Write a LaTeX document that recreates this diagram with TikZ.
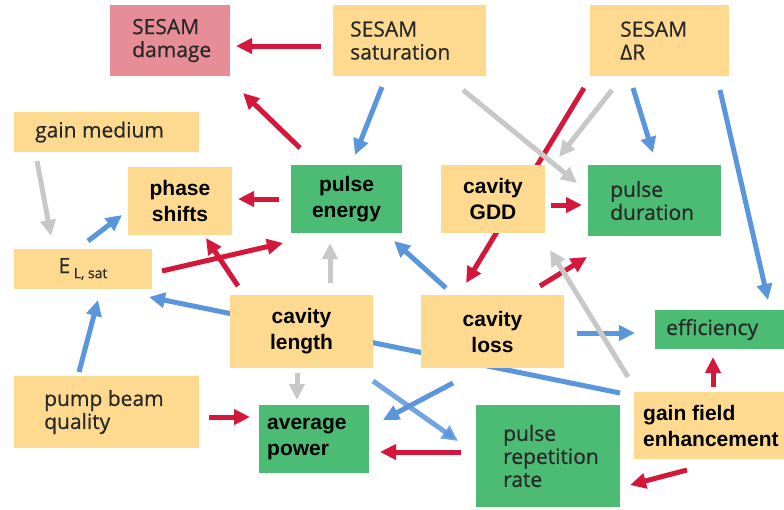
\documentclass[tikz,border=0pt]{standalone}
\usepackage{fontspec}
\setmainfont{Open Sans}[FakeBold=0.6]
\newfontfamily\bfam{Liberation Sans}
\usetikzlibrary{arrows.meta,calc}
\definecolor{yel}{RGB}{254,218,145}
\definecolor{grn}{RGB}{76,187,115}
\definecolor{pnk}{RGB}{230,141,152}
\definecolor{ared}{RGB}{212,24,60}
\definecolor{ablue}{RGB}{90,150,220}
\definecolor{agray}{RGB}{200,200,200}
\definecolor{txt}{RGB}{40,40,40}
\pgfdeclarelayer{bg}
\pgfsetlayers{bg,main}
\tikzset{
  box/.style={anchor=north west, inner sep=0pt, outer sep=0pt, draw=none},
  reg/.style={inner sep=0pt, anchor=west, font=\fontsize{21}{23}\selectfont, text=txt, align=left},
  bld/.style={inner sep=0pt, font=\bfam\bfseries\fontsize{21}{26}\selectfont, text=black, align=center},
  bldl/.style={bld, anchor=west, align=left},
  arr/.style={line width=5pt, -{Triangle[length=16pt,width=15pt]}},
  ra/.style={arr, draw=ared},
  ba/.style={arr, draw=ablue},
  ga/.style={arr, draw=agray},
}
\begin{document}
\begin{tikzpicture}[x=1pt,y=-1pt]
\useasboundingbox (0,0) rectangle (784,509);
% boxes
\node[box, fill=pnk, minimum width=120pt, minimum height=71pt] (dmg) at (110,5) {};
\node[box, fill=yel, minimum width=153pt, minimum height=71pt] (sat) at (333,5) {};
\node[box, fill=yel, minimum width=139pt, minimum height=71pt] (dR) at (590,5) {};
\node[box, fill=yel, minimum width=185pt, minimum height=40pt] (gm) at (14,112) {};
\node[box, fill=yel, minimum width=104pt, minimum height=68pt] (ph) at (128,167) {};
\node[box, fill=grn, minimum width=111pt, minimum height=68pt] (pe) at (291,165) {};
\node[box, fill=yel, minimum width=138pt, minimum height=40pt] (el) at (14,249) {};
\node[box, fill=yel, minimum width=104pt, minimum height=68pt] (gdd) at (441,165) {};
\node[box, fill=grn, minimum width=133pt, minimum height=71pt] (pd) at (588,165) {};
\node[box, fill=yel, minimum width=143pt, minimum height=73pt] (cl) at (230,295) {};
\node[box, fill=yel, minimum width=143pt, minimum height=73pt] (cs) at (421,295) {};
\node[box, fill=grn, minimum width=129pt, minimum height=39pt] (eff) at (655,310) {};
\node[box, fill=yel, minimum width=185pt, minimum height=72pt] (pbq) at (14,376) {};
\node[box, fill=grn, minimum width=110pt, minimum height=68pt] (ap) at (259,405) {};
\node[box, fill=grn, minimum width=144pt, minimum height=102pt] (prr) at (476,405) {};
\node[box, fill=yel, minimum width=150pt, minimum height=67pt] (gfe) at (634,392) {};
% texts
\node[reg] (dmgT) at ($(dmg.west)+(22,0)$) {SESAM\\damage};
\node[reg] (satT) at ($(sat.west)+(17,0)$) {SESAM\\saturation};
\node[reg] (dRT) at ($(dR.west)+(30,0)$) {SESAM\\ΔR};
\node[reg] (gmT) at ($(gm.west)+(21,0)$) {gain medium};
\node[reg] (pdT) at ($(pd.west)+(22,0)$) {pulse\\duration};
\node[reg] (prrT) at ($(prr.west)+(27,0)$) {pulse\\repetition\\rate};
\node[reg] (pbqT) at ($(pbq.west)+(30,0)$) {pump beam\\quality};
\node[reg] (effT) at ($(eff.west)+(11,0)$) {efficiency};
\node[reg, anchor=center] (elT) at (el.center) {E\,\raisebox{-5pt}{\fontsize{14}{14}\selectfont L, sat}};
\node[bld] (phT) at (ph.center) {phase\\shifts};
\node[bld] (peT) at (pe.center) {pulse\\energy};
\node[bld] (gddT) at (gdd.center) {cavity\\GDD};
\node[bld] (clT) at (cl.center) {cavity\\length};
\node[bld] (csT) at (cs.center) {cavity\\loss};
\node[bldl] (apT) at ($(ap.west)+(8,0)$) {average\\power};
\node[bldl] (gfeT) at ($(gfe.west)+(9,0)$) {gain field\\enhancement};
% connectors
\begin{pgfonlayer}{bg}
\fill[white] (0,0) rectangle (784,509);
% blue
\draw[ba] ($(sat.south)+(-27.5,11)$) -- ($(pe.north)+(8.5,-10)$);
\draw[ba] ($(dR.south)+(-26.5,12)$) -- ($(pd.north)+(-1.5,-12)$);
\draw[ba] ($(dR.south east)+(-9,14)$) -- ($(eff.north)+(48.5,-10)$);
\draw[ba] ($(el.north)+(5,-8)$) -- ($(ph.west)+(-6,14)$);
\draw[ba] ($(pbq.north)+(-27.5,-4)$) -- ($(el.south)+(15,11)$);
\draw[ba] ($(gfe.north west)+(-14,1)$) -- ($(el.south east)+(-3,8)$);
\draw[ba] ($(cs.north west)+(25,-7)$) -- ($(pe.south east)+(-8,8)$);
\draw[ba] ($(cs.east)+(13,1.5)$) -- ($(eff.west)+(-20,3.5)$);
\draw[ba, draw opacity=0.85] ($(cl.south east)+(0,13)$) -- ($(prr.west)+(-18,-15)$);
\draw[ba] ($(cs.south west)+(32,15)$) -- ($(ap.east)+(14,-19)$);
% red
\draw[ra] ($(sat.west)+(-12,5.5)$) -- ($(dmg.east)+(6,5.5)$);
\draw[ra] ($(pe.north west)+(9,-17)$) -- ($(dmg.south east)+(13,17)$);
\draw[ra] ($(pe.west)+(-12,0)$) -- ($(ph.east)+(6,-2)$);
\draw[ra] ($(el.east)+(10,2)$) -- ($(pe.south west)+(-8,10)$);
\draw[ra] ($(cl.north west)+(8,-9)$) -- ($(ph.south)+(26,3)$);
\draw[ra] ($(dR.south west)+(-6,12)$) -- ($(cs.north)+(-26.5,-12)$);
\draw[ra] ($(gdd.east)+(6,6)$) -- ($(pd.west)+(-6,4.5)$);
\draw[ra] ($(cs.north east)+(-24,-9)$) -- ($(pd.south west)+(-1,21)$);
\draw[ra] ($(prr.west)+(-15,-4)$) -- ($(ap.east)+(11,13)$);
\draw[ra] ($(pbq.east)+(10,5)$) -- ($(ap.west)+(-9,-22)$);
\draw[ra] ($(gfe.north)+(4,-5)$) -- ($(eff.south)+(-6.5,8)$);
\draw[ra] ($(gfe.south)+(-22,11)$) -- ($(prr.east)+(10,29)$);
% gray
\draw[ga] ($(gm.south west)+(23,9)$) -- ($(el.north west)+(37,-13)$);
\draw[ga] ($(cl.north)+(28.5,-12)$) -- ($(pe.south)+(-16.5,10)$);
\draw[ga] ($(cl.south)+(-4.5,5)$) -- ($(ap.north)+(-17,-5)$);
\draw[ga] ($(sat.south east)+(-23,14)$) -- ($(pd.west)+(-11,-17.5)$);
\draw[ga] ($(dR.south)+(-47.5,14)$) -- ($(pd.north west)+(-29,-8)$);
\draw[ga] ($(gfe.north west)+(-6,-15)$) -- ($(pd.south west)+(-38,14)$);
\end{pgfonlayer}
\end{tikzpicture}
\end{document}
